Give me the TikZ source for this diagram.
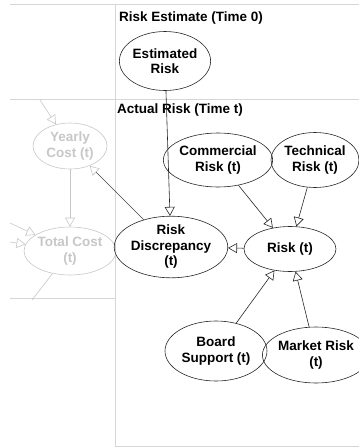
\documentclass[tikz,border=0pt]{standalone}
\usepackage{fontspec}
\setmainfont{Liberation Sans}
\usetikzlibrary{arrows.meta,shapes.geometric}
\definecolor{frame}{gray}{0.84}
\definecolor{faded}{gray}{0.78}
\begin{document}
\begin{tikzpicture}[x=1pt,y=-1pt,
  nd/.style={ellipse, draw=black!85, line width=0.6pt, inner sep=0pt, align=center,
    font=\fontsize{13.5}{15.5}\selectfont\bfseries},
  fnd/.style={nd, draw=faded, text=faded},
  hdr/.style={anchor=base west, inner sep=0pt, font=\fontsize{13.5}{15.5}\selectfont\bfseries},
  arr/.style={-{Triangle[open, length=9pt, width=10pt]}, line width=0.6pt, draw=black!85},
  farr/.style={arr, draw=faded},
  frm/.style={draw=frame, line width=0.8pt}]
\useasboundingbox (0,0) rectangle (359,448);
% frames
\draw[frm] (10,4) -- (359,4);
\draw[frm] (10,99) -- (359,99);
\draw[frm] (115,4) -- (115,446) -- (359,446);
\draw[frm] (10,298) -- (115,298);
% headers
\node[hdr] (h1) at (119,21) {Risk Estimate (Time 0)};
\node[hdr] (h2) at (117,113) {Actual Risk (Time t)};
% faded nodes
\node[fnd, minimum width=74pt, minimum height=46pt] (yc) at (70,146) {Yearly\\Cost (t)};
\node[fnd, minimum width=74pt, minimum height=48pt] (tc) at (70,251) {Total Cost\\(t)};
\coordinate (c1) at (40,100);
\coordinate (c2) at (10,223);
\coordinate (c3) at (10,242);
\coordinate (c4) at (32,300);
\draw[farr] (c1) -- (yc);
\draw[farr] (yc) -- (tc);
\draw[farr] (c2) -- (tc);
\draw[farr] (c3) -- (tc);
\draw[draw=faded, line width=0.6pt] (tc) -- (c4);
% main nodes
\node[nd, minimum width=80pt, minimum height=59pt] (est) at (165,61) {Estimated\\Risk};
\node[nd, minimum width=86pt, minimum height=58pt] (rd) at (171,247) {Risk\\Discrepancy\\(t)};
\node[nd, minimum width=92pt, minimum height=45pt] (rt) at (290,249) {Risk (t)};
\node[nd, minimum width=86pt, minimum height=54pt] (com) at (218,160) {Commercial\\Risk (t)};
\node[nd, minimum width=88pt, minimum height=55pt] (tec) at (315,160) {Technical\\Risk (t)};
\node[nd, minimum width=102pt, minimum height=60pt] (brd) at (216,351) {Board\\Support (t)};
\node[nd, minimum width=84pt, minimum height=56pt] (mkt) at (316,355) {Market Risk\\(t)};
% edges
\draw[arr] (est) -- (rd);
\draw[arr] (com) -- (rt);
\draw[arr] (tec) -- (rt);
\draw[arr] (rt) -- (rd);
\draw[arr] (brd) -- (rt);
\draw[arr] (mkt) -- (rt);
\draw[-{Triangle[open, length=9pt, width=10pt, color=faded]}, line width=0.6pt, draw=black!75] (rd) -- (yc);
\end{tikzpicture}
\end{document}
